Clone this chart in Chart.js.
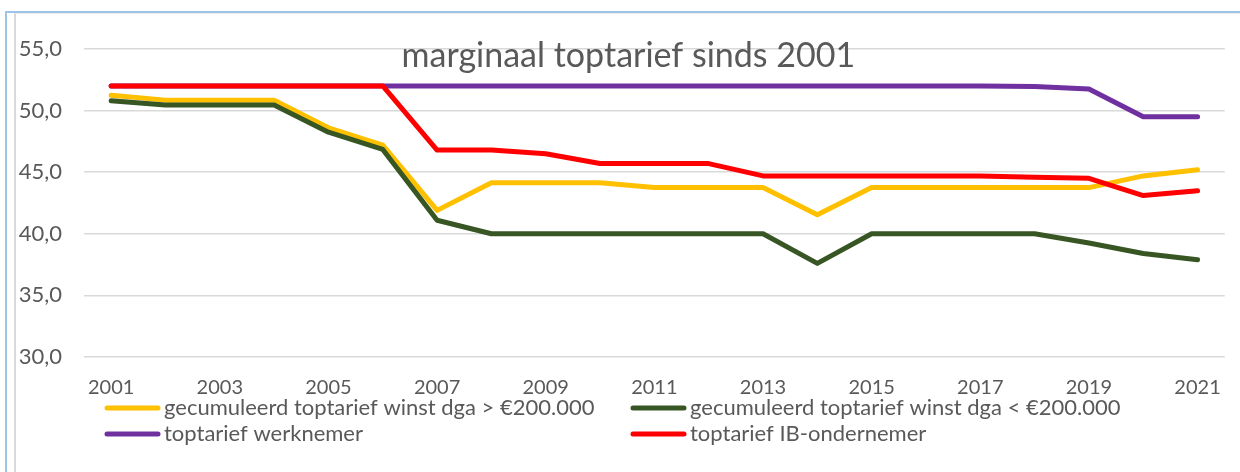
<!DOCTYPE html>
<html lang="nl">
<head>
  <meta charset="UTF-8" />
  <title>marginaal toptarief sinds 2001</title>
  <script src="https://cdn.jsdelivr.net/npm/chart.js"></script>
  <style>
    * { margin: 0; padding: 0; box-sizing: border-box; }
    body { background: #fff; }
    #wrap { position: relative; width: 1240px; height: 472px; }
    .frame-blue {
      position: absolute; left: 5px; top: 11px; right: 0; bottom: 0;
      border-left: 2px solid #9DC3E6; border-top: 2px solid #9DC3E6;
    }
    .frame-gray {
      position: absolute; left: 14px; top: 13px; right: 0; bottom: 0;
      border-left: 2px solid #D9D9D9; border-top: 1px solid #EDEDED;
    }
    canvas { position: absolute; left: 0; top: 0; }
  </style>
</head>
<body>
  <div id="wrap">
    <div class="frame-blue"></div>
    <div class="frame-gray"></div>
    <canvas id="tarief" width="1240" height="472"></canvas>
  </div>

  <script>
    // data
    const jaren = ['2001', '2002', '2003', '2004', '2005', '2006', '2007', '2008', '2009', '2010', '2011',
      '2012', '2013', '2014', '2015', '2016', '2017', '2018', '2019', '2020', '2021'];
    const dgaHoog = [51.25, 50.85, 50.85, 50.85, 48.6, 47.2, 41.9, 44.15, 44.15, 44.15, 43.75,
      43.75, 43.75, 41.55, 43.75, 43.75, 43.75, 43.75, 43.75, 44.7, 45.2];
    const dgaLaag = [50.8, 50.45, 50.45, 50.45, 48.25, 46.85, 41.1, 40.0, 40.0, 40.0, 40.0,
      40.0, 40.0, 37.6, 40.0, 40.0, 40.0, 40.0, 39.25, 38.4, 37.9];
    const werknemer = [52, 52, 52, 52, 52, 52, 52, 52, 52, 52, 52,
      52, 52, 52, 52, 52, 52, 51.95, 51.75, 49.5, 49.5];
    const ibOndernemer = [52, 52, 52, 52, 52, 52, 46.8, 46.8, 46.5, 45.7, 45.7,
      45.7, 44.7, 44.7, 44.7, 44.7, 44.7, 44.6, 44.5, 43.1, 43.5];

    const titel = 'marginaal toptarief sinds 2001';
    const grijs = '#595959';
    const lettertype = 'Lato, "Open Sans", sans-serif';

    function lijn(label, data, kleur, volgorde) {
      return {
        label: label,
        data: data,
        borderColor: kleur,
        backgroundColor: kleur,
        borderWidth: 5,
        borderCapStyle: 'round',
        borderJoinStyle: 'round',
        pointRadius: 0,
        tension: 0,
        fill: false,
        order: volgorde
      };
    }

    // titel in het plotvlak + legenda in twee kolommen
    const extraTekst = {
      id: 'extraTekst',
      afterDraw(chart) {
        const c = chart.ctx;
        const area = chart.chartArea;
        c.save();
        c.fillStyle = grijs;
        c.font = '34px ' + lettertype;
        c.textAlign = 'center';
        c.textBaseline = 'alphabetic';
        c.fillText(titel, (area.left + area.right) / 2 - 26, area.top + 18);

        const kolommen = [area.left + 21, area.left + 547];
        const rijen = [area.bottom + 51, area.bottom + 77];
        c.font = '22px ' + lettertype;
        c.textAlign = 'left';
        c.textBaseline = 'middle';
        chart.data.datasets.forEach((ds, i) => {
          const x = kolommen[i % 2];
          const y = rijen[Math.floor(i / 2)];
          c.strokeStyle = ds.borderColor;
          c.lineWidth = 5;
          c.lineCap = 'round';
          c.beginPath();
          c.moveTo(x + 2, y);
          c.lineTo(x + 53, y);
          c.stroke();
          c.fillStyle = grijs;
          c.fillText(ds.label, x + 59, y);
        });
        c.restore();
      }
    };

    const ctx = document.getElementById('tarief').getContext('2d');
    new Chart(ctx, {
      type: 'line',
      data: {
        labels: jaren,
        datasets: [
          lijn('gecumuleerd toptarief winst dga > €200.000', dgaHoog, '#FFC000', 4),
          lijn('gecumuleerd toptarief winst dga < €200.000', dgaLaag, '#375623', 3),
          lijn('toptarief werknemer', werknemer, '#7030A0', 2),
          lijn('toptarief IB-ondernemer', ibOndernemer, '#FF0000', 1)
        ]
      },
      options: {
        responsive: false,
        animation: false,
        layout: { padding: { top: 49, right: 10, left: 0, bottom: 0 } },
        plugins: {
          legend: { display: false },
          title: { display: false },
          tooltip: { enabled: false }
        },
        scales: {
          x: {
            offset: true,
            grid: { display: false, drawTicks: false },
            border: { display: false },
            ticks: {
              autoSkip: false,
              maxRotation: 0,
              padding: 19,
              color: grijs,
              font: { family: lettertype, size: 20 },
              callback: function (val, i) { return i % 2 === 0 ? this.getLabelForValue(val) : ''; }
            },
            afterFit: s => { s.height = 115; }
          },
          y: {
            min: 30,
            max: 55,
            grid: { color: '#D9D9D9', lineWidth: 1.5, drawTicks: false },
            border: { display: false },
            ticks: {
              stepSize: 5,
              padding: 22,
              color: grijs,
              font: { family: lettertype, size: 22 },
              callback: v => v.toFixed(1).replace('.', ',')
            },
            afterFit: s => { s.width = 84; }
          }
        }
      },
      plugins: [extraTekst]
    });
  </script>
</body>
</html>
